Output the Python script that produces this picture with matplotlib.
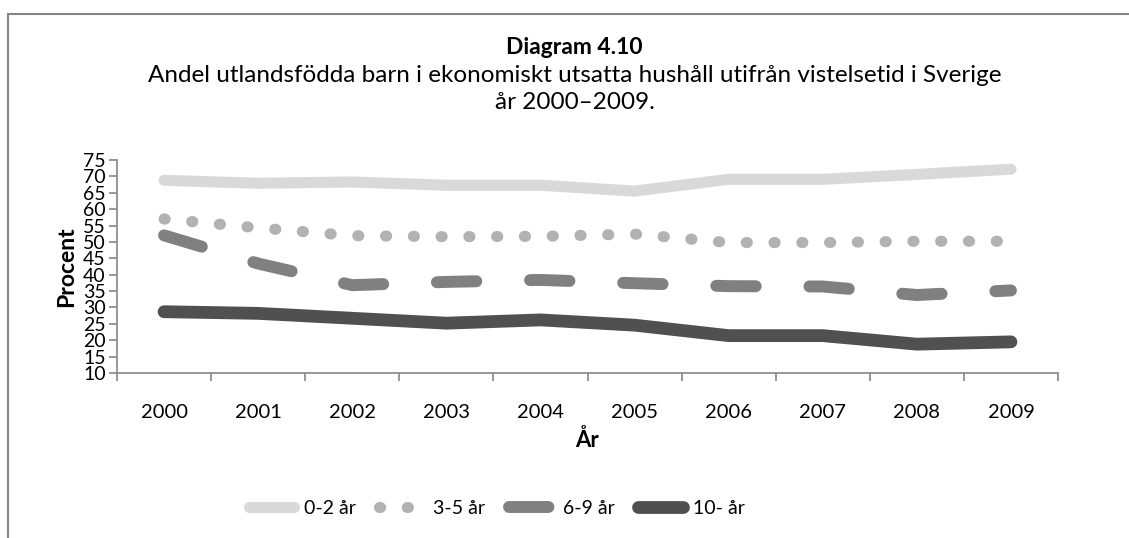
import matplotlib
matplotlib.use("Agg")
import matplotlib.pyplot as plt
from matplotlib.patches import Rectangle

plt.rcParams['font.family'] = ['Lato', 'DejaVu Sans']

years = ['2000', '2001', '2002', '2003', '2004', '2005', '2006', '2007', '2008', '2009']
age_0_2 = [68.8, 67.9, 68.3, 67.3, 67.3, 65.5, 69.1, 69.1, 70.6, 72.2]
age_3_5 = [57.0, 54.3, 51.9, 51.6, 51.7, 52.4, 49.8, 49.8, 50.2, 50.2]
age_6_9 = [52.0, 43.4, 36.8, 37.8, 38.4, 37.4, 36.5, 36.4, 33.8, 35.2]
age_10 = [28.7, 28.2, 26.7, 25.2, 26.2, 24.6, 21.4, 21.4, 18.8, 19.5]
yticks = list(range(10, 80, 5))

AXIS_GREY = '#868686'

fig = plt.figure(figsize=(11.29, 5.38), dpi=100)

# outer frame (cut off at right and bottom like the source)
fig.patches.append(Rectangle((8 / 1129, -0.1), 1.2, 1 - 14 / 538 + 0.1,
                             transform=fig.transFigure, fill=False,
                             edgecolor=AXIS_GREY, linewidth=1.5))

ax = fig.add_axes([117 / 1129, 1 - 373 / 538, (1058 - 117) / 1129, (373 - 160) / 538])
x = list(range(len(years)))

ax.plot(x, age_0_2, color='#d9d9d9', lw=8, solid_capstyle='round',
        solid_joinstyle='round', label='0-2 år')
ax.plot(x, age_3_5, color='#b2b2b2', lw=8, linestyle=(0, (0.1, 2.4)),
        dash_capstyle='round', label='3-5 år')
ax.plot(x, age_6_9, color='#808080', lw=8.6, linestyle=(0, (3.3, 4.5)),
        dash_capstyle='round', dash_joinstyle='round', label='6-9 år')
ax.plot(x, age_10, color='#505050', lw=9.2, solid_capstyle='round',
        solid_joinstyle='round', label='10- år')

ax.set_xlim(-0.5, len(years) - 0.5)
ax.set_ylim(10, 75)
ax.set_yticks(yticks)
ax.set_yticklabels([str(v) for v in yticks], fontsize=14)
ax.set_xticks(x)
ax.set_xticklabels(years, fontsize=14.5)
ax.set_xticks([i - 0.5 for i in range(len(years) + 1)], minor=True)
ax.tick_params(axis='x', which='major', length=0, pad=22)
ax.tick_params(axis='x', which='minor', length=6, color=AXIS_GREY, width=1.2)
ax.tick_params(axis='y', length=6, color=AXIS_GREY, width=1.2, pad=2)

for side in ['top', 'right']:
    ax.spines[side].set_visible(False)
for side in ['left', 'bottom']:
    ax.spines[side].set_color(AXIS_GREY)
    ax.spines[side].set_linewidth(1.2)

ax.set_xlabel('År', fontsize=16, fontweight='bold', labelpad=6)
ax.set_ylabel('Procent', fontsize=16.5, fontweight='bold', labelpad=4)

fig.text(0.509, 1 - 47 / 538, 'Diagram 4.10', ha='center', va='center',
         fontsize=16.5, fontweight='bold')
fig.text(0.509, 1 - 75 / 538,
         'Andel utlandsfödda barn i ekonomiskt utsatta hushåll utifrån vistelsetid i Sverige',
         ha='center', va='center', fontsize=17.5)
fig.text(0.509, 1 - 102 / 538, 'år 2000–2009.', ha='center', va='center', fontsize=17.5)

fig.legend(loc='center', bbox_to_anchor=(0.44, 1 - 508 / 538), ncol=4,
           frameon=False, fontsize=14, handlelength=2.3, columnspacing=1.2,
           handletextpad=0.5)

fig.savefig('out.png', dpi=100)
